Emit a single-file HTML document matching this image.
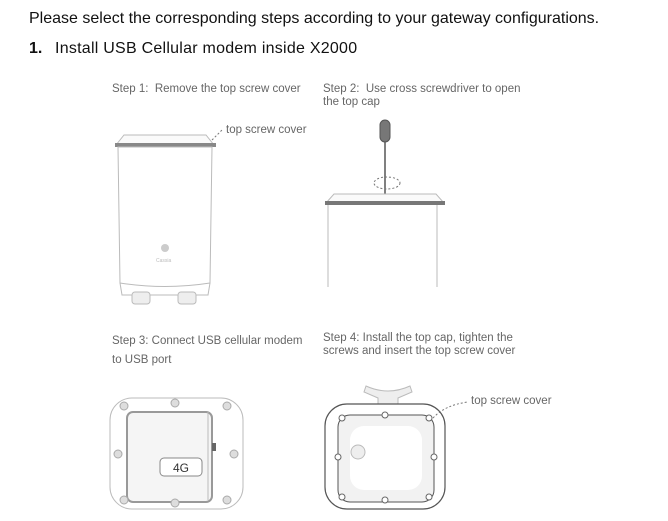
<!DOCTYPE html>
<html><head><style>
body{margin:0;background:#fff;width:668px;height:521px;overflow:hidden;position:relative;font-family:"Liberation Sans",sans-serif}
.t{position:absolute;white-space:nowrap}
.s{font-size:11.5px;color:#666;line-height:13px}
</style></head><body>
<div class="t" style="left:29px;top:10px;font-size:16px;color:#111">Please select the corresponding steps according to your gateway configurations.</div>
<div class="t" style="left:29px;top:40px;font-size:16px;color:#111"><b>1.</b></div>
<div class="t" style="left:55px;top:40px;font-size:16px;color:#111;letter-spacing:0.25px">Install USB Cellular modem inside X2000</div>
<div class="t s" style="left:112px;top:83px">Step 1:&nbsp; Remove the top screw cover</div>
<div class="t s" style="left:323px;top:83px">Step 2:&nbsp; Use cross screwdriver to open<br>the top cap</div>
<div class="t s" style="left:226px;top:124px">top screw cover</div>
<div class="t s" style="left:112px;top:332px;line-height:19px">Step 3: Connect USB cellular modem<br>to USB port</div>
<div class="t s" style="left:323px;top:332px">Step 4: Install the top cap, tighten the<br>screws and insert the top screw cover</div>
<div class="t s" style="left:471px;top:395px">top screw cover</div>
<svg width="668" height="521" style="position:absolute;left:0;top:0" fill="none" stroke="#bbb" stroke-width="1">
<!-- device1 -->
<path d="M116 145 L124 135 L206 135 L214 145 Z" fill="#fafafa"/>
<rect x="115" y="143" width="101" height="4" fill="#888" stroke="none"/>
<path d="M118 147 L212 147 L210 283 Q165 290 120 283 Z" fill="#fff"/>
<path d="M120 283 L122 295 L208 295 L210 283" />
<rect x="132" y="292" width="18" height="12" rx="3" fill="#eee"/>
<rect x="178" y="292" width="18" height="12" rx="3" fill="#eee"/>
<circle cx="165" cy="248" r="4" fill="#ccc" stroke="none"/>
<text x="156" y="262" font-size="5" fill="#bbb" stroke="none" font-family="Liberation Sans">Cassia</text>
<path d="M212 140 L222 130" stroke-dasharray="2,2" stroke="#777"/>
<!-- device2 -->
<rect x="380" y="120" width="10" height="22" rx="5" fill="#777" stroke="#555"/>
<line x1="385" y1="142" x2="385" y2="198" stroke="#555" stroke-width="1.5"/>
<ellipse cx="387" cy="183" rx="13" ry="6" stroke-dasharray="2,2" stroke="#777"/>
<path d="M326 203 L334 194 L436 194 L444 203 Z" fill="#fafafa"/>
<rect x="325" y="201" width="120" height="4" fill="#777" stroke="none"/>
<path d="M328 205 L328 287 M437 205 L437 287"/>
<!-- device3 -->
<rect x="110" y="398" width="133" height="111" rx="22" fill="#fff"/>
<rect x="127" y="412" width="85" height="90" rx="6" fill="#f5f5f5" stroke="#999" stroke-width="2"/>
<line x1="208" y1="412" x2="208" y2="500"/>
<rect x="160" y="458" width="42" height="18" rx="4" fill="#fff" stroke="#888"/>
<text x="173" y="472" font-size="12" fill="#333" stroke="none" font-family="Liberation Sans">4G</text>
<rect x="212" y="443" width="4" height="8" fill="#666" stroke="none"/>
<g fill="#ddd" stroke="#aaa"><circle cx="124" cy="406" r="4"/><circle cx="175" cy="403" r="4"/><circle cx="227" cy="406" r="4"/><circle cx="118" cy="454" r="4"/><circle cx="234" cy="454" r="4"/><circle cx="124" cy="500" r="4"/><circle cx="175" cy="503" r="4"/><circle cx="227" cy="500" r="4"/></g>
<!-- device4 -->
<path d="M366 386 Q388 396 410 386 L412 392 L398 398 L398 407 L378 407 L378 398 L364 392 Z" fill="#eee"/>
<rect x="325" y="404" width="120" height="105" rx="22" fill="#fff" stroke="#555" stroke-width="1.2"/>
<rect x="338" y="415" width="96" height="87" rx="12" fill="#f2f2f2" stroke="#555"/>
<rect x="350" y="426" width="72" height="64" rx="14" fill="#fff" stroke="none"/>
<circle cx="358" cy="452" r="7" fill="#eee"/>
<g fill="#fff" stroke="#666"><circle cx="342" cy="418" r="3"/><circle cx="385" cy="415" r="3"/><circle cx="429" cy="418" r="3"/><circle cx="338" cy="457" r="3"/><circle cx="434" cy="457" r="3"/><circle cx="342" cy="497" r="3"/><circle cx="385" cy="500" r="3"/><circle cx="429" cy="497" r="3"/></g>
<path d="M433 418 Q445 405 468 402" stroke-dasharray="2,2" stroke="#777"/>
</svg>
</body></html>
